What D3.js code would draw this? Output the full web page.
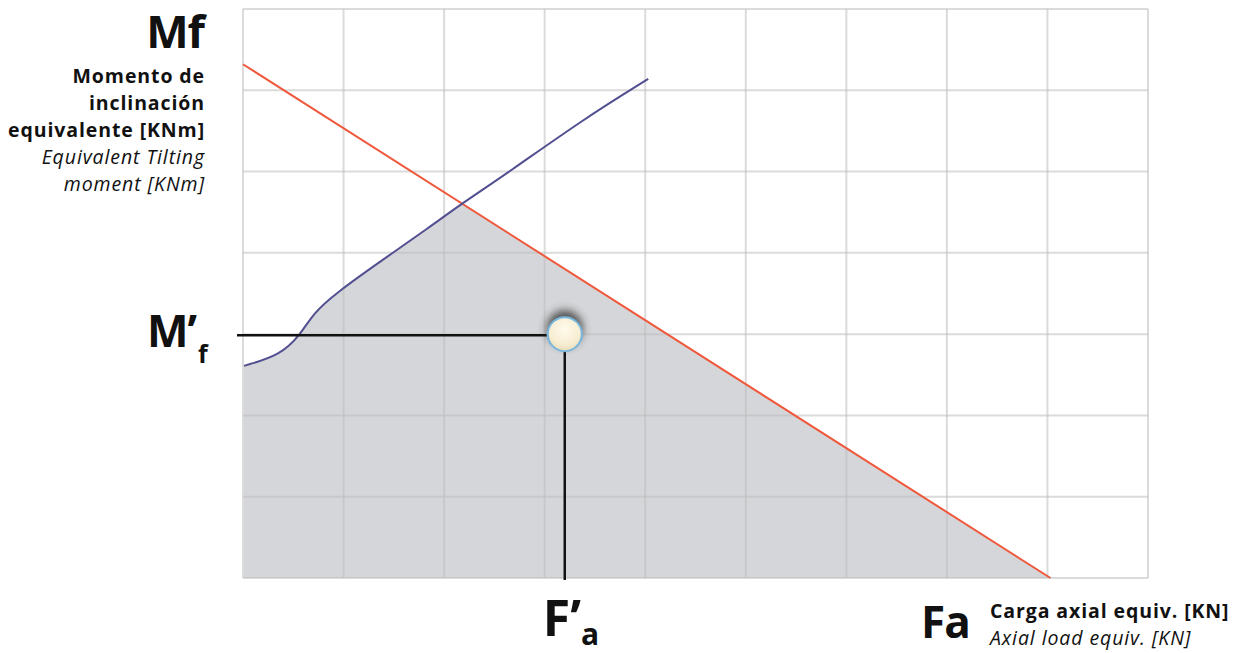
<!DOCTYPE html>
<html>
<head>
<meta charset="utf-8">
<script src="https://cdn.jsdelivr.net/npm/d3@7"></script>
<style>
  body { margin: 0; background: #fff; }
  svg { display: block; }
  text { font-family: "Open Sans", "DejaVu Sans", sans-serif; fill: #111; }
  .bold { font-weight: 700; }
  .ital { font-style: italic; font-weight: 400; }
  .small { font-size: 19.5px; letter-spacing: 0.9px; }
</style>
</head>
<body>
<div id="svg"></div>
<script>
// grid divisions (axes have no numeric ticks, only the grid)
var xTicks = d3.range(0, 10);   // 9 columns
var yTicks = d3.range(0, 8);    // 7 rows

// straight limit line (red), Fa vs Mf in grid units
var limitFa = [0, 8.03];
var limitMf = [6.32, 0];

// bearing capacity curve (blue)
var curveFa = [0.01, 0.37, 0.57, 0.70, 0.93, 1.36, 1.86, 2.18, 2.63, 3.38, 4.03];
var curveMf = [2.61, 2.74, 2.99, 3.26, 3.51, 3.89, 4.32, 4.61, 4.98, 5.64, 6.14];

// load point (F'a, M'f)
var pointFa = 3.2;
var pointMf = 3.0;

var width = 1240,
    height = 653;

var x = d3.scaleLinear().domain([0, 9]).range([243, 1148]);
var y = d3.scaleLinear().domain([0, 7]).range([578, 9]);

var svg = d3.select("#svg").append("svg")
    .attr("width", width)
    .attr("height", height);

var defs = svg.append("defs");
defs.append("filter").attr("id", "blur")
    .attr("x", "-50%").attr("y", "-50%").attr("width", "200%").attr("height", "200%")
  .append("feGaussianBlur").attr("stdDeviation", 4);
var grad = defs.append("radialGradient").attr("id", "ball")
    .attr("cx", "50%").attr("cy", "35%").attr("r", "65%");
grad.append("stop").attr("offset", "0%").attr("stop-color", "#fffaec");
grad.append("stop").attr("offset", "70%").attr("stop-color", "#f7edd2");
grad.append("stop").attr("offset", "100%").attr("stop-color", "#e9dcb8");

var curve = curveFa.map(function(d, i) { return [d, curveMf[i]]; });
var slope = (limitMf[1] - limitMf[0]) / (limitFa[1] - limitFa[0]);
var limitAt = function(fa) { return limitMf[0] + slope * (fa - limitFa[0]); };

// where the blue curve crosses the red line
var crossFa = limitFa[1];
for (var i = 1; i < curve.length; i++) {
    var p = curve[i], q = curve[i - 1];
    if (p[1] > limitAt(p[0])) {
        var d0 = q[1] - limitAt(q[0]), d1 = p[1] - limitAt(p[0]);
        crossFa = q[0] + (d0 / (d0 - d1)) * (p[0] - q[0]);
        break;
    }
}

// safe zone: under the blue curve, cut by the red line
defs.append("clipPath").attr("id", "underRed")
  .append("path")
    .datum([[limitFa[0], 0], [limitFa[0], limitMf[0]], [limitFa[1], limitMf[1]]])
    .attr("d", d3.line().x(function(d) { return x(d[0]); }).y(function(d) { return y(d[1]); }));

var zone = svg.append("g").attr("clip-path", "url(#underRed)");
zone.append("path")
    .datum(curve)
    .attr("d", d3.area().curve(d3.curveBasis)
        .x(function(d) { return x(d[0]); })
        .y0(y(0))
        .y1(function(d) { return y(d[1]); }))
    .style("fill", "#d5d6d9");
zone.append("rect")
    .attr("x", x(crossFa) - 1).attr("y", y(7))
    .attr("width", x(limitFa[1]) - x(crossFa) + 1).attr("height", y(0) - y(7))
    .style("fill", "#d5d6d9");

// grid
svg.append("g").selectAll("line")
    .data(xTicks).enter().append("line")
    .attr("x1", function(d) { return x(d); })
    .attr("x2", function(d) { return x(d); })
    .attr("y1", y(7)).attr("y2", y(0))
    .style("stroke", "#bdbdbd").style("stroke-opacity", 0.55).style("stroke-width", 2);
svg.append("g").selectAll("line")
    .data(yTicks).enter().append("line")
    .attr("y1", function(d) { return y(d); })
    .attr("y2", function(d) { return y(d); })
    .attr("x1", x(0)).attr("x2", x(9))
    .style("stroke", "#bdbdbd").style("stroke-opacity", 0.55).style("stroke-width", 2);

// red limit line
svg.append("line")
    .attr("x1", x(limitFa[0])).attr("y1", y(limitMf[0]))
    .attr("x2", x(limitFa[1])).attr("y2", y(limitMf[1]))
    .style("stroke", "#f0583c").style("stroke-width", 2);

// blue curve
svg.append("path")
    .datum(curve)
    .attr("d", d3.line().curve(d3.curveBasis)
        .x(function(d) { return x(d[0]); }).y(function(d) { return y(d[1]); }))
    .style("fill", "none").style("stroke", "#524f91").style("stroke-width", 2);

// guide lines to the point
svg.append("line")
    .attr("x1", 237).attr("x2", x(pointFa) - 18)
    .attr("y1", y(pointMf) + 1).attr("y2", y(pointMf) + 1)
    .style("stroke", "#111").style("stroke-width", 2.5);
svg.append("line")
    .attr("x1", x(pointFa)).attr("x2", x(pointFa))
    .attr("y1", y(pointMf)).attr("y2", y(0) + 2)
    .style("stroke", "#111").style("stroke-width", 2.5);

// the point
svg.append("circle")
    .attr("cx", x(pointFa)).attr("cy", y(pointMf) - 6).attr("r", 18)
    .attr("filter", "url(#blur)")
    .style("fill", "#333").style("opacity", 0.8);
svg.append("circle")
    .attr("cx", x(pointFa)).attr("cy", y(pointMf)).attr("r", 17)
    .style("fill", "url(#ball)").style("stroke", "#78b7de").style("stroke-width", 2);

// y axis labels
svg.append("text").attr("class", "bold")
    .attr("x", 204).attr("y", 48).attr("text-anchor", "end")
    .style("font-size", "45px").style("letter-spacing", "-1px").text("Mf");
var yLines = [
    {t: "Momento de", c: "bold"},
    {t: "inclinación", c: "bold"},
    {t: "equivalente [KNm]", c: "bold"},
    {t: "Equivalent Tilting", c: "ital"},
    {t: "moment [KNm]", c: "ital"}
];
svg.append("g").selectAll("text")
    .data(yLines).enter().append("text")
    .attr("class", function(d) { return d.c + " small"; })
    .attr("x", 205).attr("y", function(d, i) { return 83 + i * 27; })
    .attr("text-anchor", "end")
    .text(function(d) { return d.t; });

// M'f label
var mf = svg.append("text").attr("class", "bold")
    .attr("x", 147).attr("y", y(pointMf) + 13)
    .style("font-size", "44px").style("letter-spacing", "-1px");
mf.append("tspan").text("M’");
mf.append("tspan").attr("dy", 16).attr("dx", 2).style("font-size", "25px").text("f");

// F'a label
var fa = svg.append("text").attr("class", "bold")
    .attr("x", x(pointFa) - 22).attr("y", 636)
    .style("font-size", "50px");
fa.append("tspan").text("F’");
fa.append("tspan").attr("dy", 9).attr("dx", 0).style("font-size", "30px").text("a");

// x axis labels
svg.append("text").attr("class", "bold")
    .attr("x", 921).attr("y", 638)
    .style("font-size", "44px").style("letter-spacing", "-1px").text("Fa");
svg.append("text").attr("class", "bold small")
    .attr("x", 990).attr("y", 618)
    .text("Carga axial equiv. [KN]");
svg.append("text").attr("class", "ital small")
    .attr("x", 990).attr("y", 645)
    .text("Axial load equiv. [KN]");
</script>
</body>
</html>
